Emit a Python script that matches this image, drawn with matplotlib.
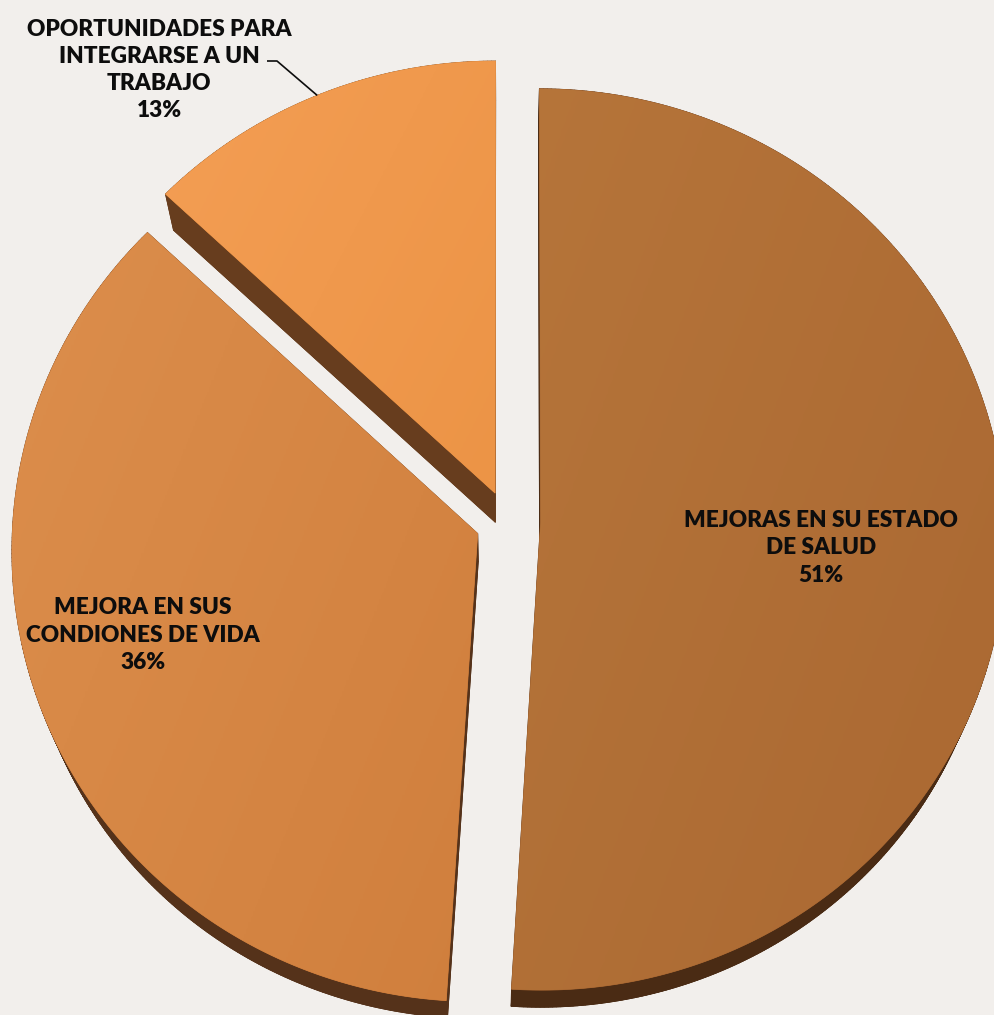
import numpy as np
import matplotlib
matplotlib.use("Agg")
import matplotlib.pyplot as plt
from matplotlib.patches import Polygon
from matplotlib.collections import PolyCollection
from matplotlib.colors import LinearSegmentedColormap

# --- data -------------------------------------------------------------
categories = [
    "MEJORAS EN SU ESTADO\nDE SALUD",
    "MEJORA EN SUS\nCONDIONES DE VIDA",
    "OPORTUNIDADES PARA\nINTEGRARSE A UN\nTRABAJO",
]
values = [51, 36, 13]

# --- style --------------------------------------------------------------
top_colors = [("#B6753A", "#AA6832"), ("#DC8E4C", "#D07F3D"), ("#F49E54", "#EC9446")]
side_colors = ["#4A2B14", "#55321A", "#673D1E"]
background = "#F2EFEC"

# view of the pie disc (pixel space, y grows downwards)
CX, CY = 508, 522          # projected centre
SX, SY = 465, 450          # radii of the top face
PERSP = 0.0366             # foreshortening of the far side
EXPLODE = 0.07             # slice pull-out, in radius units
VANISH = np.array([500.0, 1700.0])
DEPTH = 0.024              # thickness of the disc toward the vanishing point


def project(u, v):
    d = 1.0 - PERSP * v
    return CX + SX * u / d, CY + SY * v / d


def slice_polygon(a0, a1):
    """Top face of one exploded slice (angles clockwise from 12 o'clock)."""
    am = 0.5 * (a0 + a1)
    ou, ov = EXPLODE * np.sin(am), -EXPLODE * np.cos(am)
    n = max(int(np.degrees(a1 - a0) * 2), 8)
    t = np.linspace(a0, a1, n)
    u = np.concatenate([[0.0], np.sin(t)]) + ou
    v = np.concatenate([[0.0], -np.cos(t)]) + ov
    x, y = project(u, v)
    return np.column_stack([x, y])


fig = plt.figure(figsize=(9.95, 10.15), dpi=100)
fig.patch.set_facecolor(background)
ax = fig.add_axes([0, 0, 1, 1])
ax.set_facecolor(background)
ax.set_xlim(0, 995)
ax.set_ylim(1015, 0)
ax.axis("off")

total = float(sum(values))
bounds = np.concatenate([[0.0], np.cumsum(values)]) / total * 2 * np.pi
tops = [slice_polygon(bounds[i], bounds[i + 1]) for i in range(len(values))]

# side walls of the extruded disc
for pts, col in zip(tops, side_colors):
    bot = pts + DEPTH * (VANISH - pts)
    quads = []
    m = len(pts)
    for i in range(m):
        j = (i + 1) % m
        quads.append([pts[i], pts[j], bot[j], bot[i]])
    quads.append(bot)
    ax.add_collection(PolyCollection(quads, facecolors=col, edgecolors=col,
                                     linewidths=0.6, zorder=1))

# top faces with a soft linear shading
for k, (pts, (c0, c1)) in enumerate(zip(tops, top_colors)):
    cmap = LinearSegmentedColormap.from_list(f"shade{k}", [c0, c1])
    base = Polygon(pts, closed=True, facecolor=c1, edgecolor=c1, lw=0.5, zorder=2)
    ax.add_patch(base)
    xmin, ymin = pts.min(axis=0)
    xmax, ymax = pts.max(axis=0)
    gx = np.linspace(0, 1, 200)
    gy = np.linspace(0, 1, 200)
    GX, GY = np.meshgrid(gx, gy)
    grad = 0.6 * GX + 0.4 * GY
    im = ax.imshow(grad, cmap=cmap, extent=(xmin, xmax, ymax, ymin),
                   origin="upper", aspect="auto", zorder=3, interpolation="bilinear")
    clip = Polygon(pts, closed=True, facecolor="none", edgecolor="none",
                   transform=ax.transData)
    ax.add_patch(clip)
    im.set_clip_path(clip)

ax.set_xlim(0, 995)
ax.set_ylim(1015, 0)

# --- labels -------------------------------------------------------------
font = dict(family=["Lato", "DejaVu Sans"], fontweight="heavy", fontsize=16.3,
            color="#0D0D0D", ha="center", va="center", linespacing=1.36, zorder=5)
label_pos = [(821, 548), (143, 635), (159, 70)]
for name, val, (lx, ly) in zip(categories, values, label_pos):
    ax.text(lx, ly, f"{name}\n{val}%", **font)

# leader line for the small slice
am = 0.5 * (bounds[2] + bounds[3])
eu, ev = (1 + EXPLODE) * np.sin(am), -(1 + EXPLODE) * np.cos(am)
ex, ey = project(eu, ev)
ax.plot([267, 277, ex], [61, 61, ey], color="#0D0D0D", lw=1.2, zorder=5,
        solid_capstyle="butt")

fig.savefig("out.png", dpi=100, facecolor=background)
